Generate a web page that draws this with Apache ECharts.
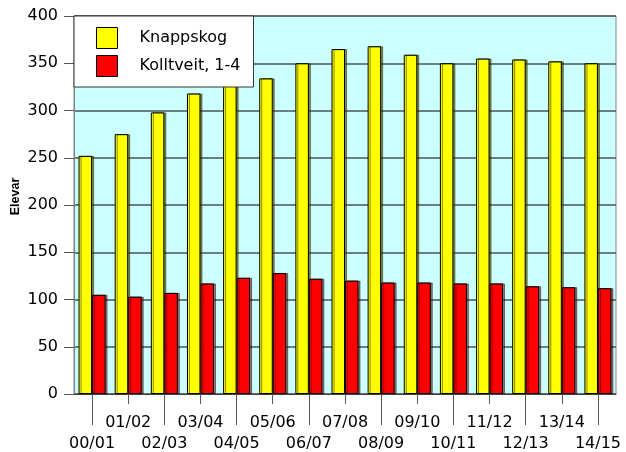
<!DOCTYPE html>
<html><head><meta charset="utf-8">
<script src="https://cdn.jsdelivr.net/npm/echarts@6/dist/echarts.min.js"></script>
<style>html,body{margin:0;padding:0;background:#fff}#c{width:626px;height:452px}</style>
</head><body><div id="c"></div>
<script>
const categories = ['00/01','01/02','02/03','03/04','04/05','05/06','06/07','07/08','08/09','09/10','10/11','11/12','12/13','13/14','14/15'];
const knappskog = [252, 275, 298, 318, 328, 334, 350, 365, 368, 359, 350, 355, 354, 352, 350];
const kolltveit = [105, 103, 107, 117, 123, 128, 122, 120, 118, 118, 117, 117, 114, 113, 112];
const yTicks = [0, 50, 100, 150, 200, 250, 300, 350, 400];

const FONT = 'DejaVu Sans';
const chart = echarts.init(document.getElementById('c'), null, {renderer: 'canvas'});
const even = (i) => i % 2 === 0;
const odd = (i) => i % 2 === 1;
chart.setOption({
  animation: false,
  textStyle: {fontFamily: FONT},
  grid: {left: 74, right: 10, top: 16, bottom: 58, containLabel: false, outerBoundsMode: 'none', show: true, backgroundColor: '#ccffff', borderColor: '#808080', borderWidth: 1},
  legend: {
    orient: 'vertical', left: 74, top: 16,
    backgroundColor: '#fff', borderColor: '#333', borderWidth: 1,
    padding: [11, 13, 10, 22], itemGap: 6, itemWidth: 21, itemHeight: 21,
    icon: 'rect',
    textStyle: {fontFamily: FONT, fontSize: 16, color: '#000', padding: [0, 0, 0, 17]},
    itemStyle: {borderColor: '#000', borderWidth: 1, shadowBlur: 0, shadowOffsetX: 0, shadowColor: 'transparent'}
  },
  xAxis: [{
    type: 'category', data: categories, position: 'bottom',
    axisLine: {show: true, lineStyle: {color: '#404040', width: 1}},
    axisTick: {show: true, alignWithLabel: true, interval: even, length: 31, lineStyle: {color: '#555'}},
    axisLabel: {interval: even, margin: 42, fontFamily: FONT, fontSize: 16, color: '#000'}
  }, {
    type: 'category', data: categories, position: 'bottom',
    axisLine: {show: false},
    axisTick: {show: true, alignWithLabel: true, interval: odd, length: 10, lineStyle: {color: '#555'}},
    axisLabel: {interval: odd, margin: 21, fontFamily: FONT, fontSize: 16, color: '#000'}
  }],
  yAxis: {
    type: 'value', min: yTicks[0], max: yTicks[yTicks.length - 1], interval: 50,
    name: 'Elevar', nameLocation: 'middle', nameGap: 52, nameRotate: 90, nameMoveOverlap: false,
    nameTextStyle: {fontFamily: 'Liberation Sans', fontSize: 12.5, fontWeight: 'bold', color: '#000', padding: [0, 0, 0, 17]},
    axisLine: {show: true, lineStyle: {color: '#808080'}},
    axisTick: {show: true, length: 10, lineStyle: {color: '#555'}},
    axisLabel: {margin: 16, fontFamily: FONT, fontSize: 16, color: '#000'},
    splitLine: {show: true, lineStyle: {color: '#4a5555', width: 1.5}}
  },
  series: [{
    name: 'Knappskog', type: 'bar', data: knappskog, barWidth: 13.5, barGap: '0%',
    itemStyle: {color: '#ffff00', borderColor: '#000', borderWidth: 1, shadowColor: 'rgba(60,60,0,0.6)', shadowOffsetX: 2, shadowBlur: 0}
  }, {
    name: 'Kolltveit, 1-4', type: 'bar', data: kolltveit, barWidth: 13.5, barGap: '0%',
    itemStyle: {color: '#ff0000', borderColor: '#000', borderWidth: 1, shadowColor: 'rgba(60,0,0,0.5)', shadowOffsetX: 2, shadowBlur: 0}
  }]
});
</script></body></html>
